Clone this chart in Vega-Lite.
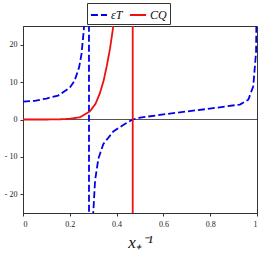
{
  "$schema": "https://vega.github.io/schema/vega-lite/v6.json",
  "width": 234,
  "height": 187,
  "autosize": {"type": "none"},
  "padding": {"left": 23, "top": 26, "right": 5, "bottom": 49},
  "background": "white",
  "config": {
    "view": {"stroke": "#333", "strokeWidth": 1},
    "axis": {"grid": false, "domainColor": "#333", "tickColor": "#333", "labelFont": "Liberation Serif", "labelFontSize": 8, "labelColor": "#222", "titleFont": "Liberation Serif", "titleFontWeight": "normal", "titleColor": "#111"},
    "legend": {"orient": "none", "legendX": 64, "legendY": -23, "direction": "horizontal", "title": null,
               "strokeColor": "#333", "padding": 3, "symbolType": "stroke", "symbolSize": 260, "symbolStrokeWidth": 1.8,
               "labelFont": "Liberation Serif", "labelFontStyle": "italic", "labelFontSize": 12, "labelColor": "#111",
               "columnPadding": 3, "labelOffset": 3}
  },
  "data": {"values": [
    {"s": "εT", "x": 0, "y": 4.8},
    {"s": "εT", "x": 0.05, "y": 5.0},
    {"s": "εT", "x": 0.1, "y": 5.6},
    {"s": "εT", "x": 0.15, "y": 6.4},
    {"s": "εT", "x": 0.2, "y": 8.5},
    {"s": "εT", "x": 0.22, "y": 10.3},
    {"s": "εT", "x": 0.24, "y": 14},
    {"s": "εT", "x": 0.25, "y": 17.5},
    {"s": "εT", "x": 0.26, "y": 24},
    {"s": "εT", "x": 0.27, "y": 40},
    {"s": "εT", "x": 0.276, "y": 80},
    {"s": "εT", "x": 0.281, "y": 300},
    {"s": "εT", "x": 0.283, "y": -300},
    {"s": "εT", "x": 0.29, "y": -60},
    {"s": "εT", "x": 0.3, "y": -25.3},
    {"s": "εT", "x": 0.308, "y": -16.3},
    {"s": "εT", "x": 0.322, "y": -10.5},
    {"s": "εT", "x": 0.343, "y": -6.6},
    {"s": "εT", "x": 0.386, "y": -3.2},
    {"s": "εT", "x": 0.43, "y": -1.4},
    {"s": "εT", "x": 0.469, "y": 0},
    {"s": "εT", "x": 0.5, "y": 0.5},
    {"s": "εT", "x": 0.642, "y": 1.7},
    {"s": "εT", "x": 0.785, "y": 2.8},
    {"s": "εT", "x": 0.927, "y": 4.0},
    {"s": "εT", "x": 0.963, "y": 5.3},
    {"s": "εT", "x": 0.984, "y": 8.9},
    {"s": "εT", "x": 0.996, "y": 18},
    {"s": "εT", "x": 0.998, "y": 30},
    {"s": "CQ", "x": 0, "y": 0},
    {"s": "CQ", "x": 0.1, "y": 0},
    {"s": "CQ", "x": 0.158, "y": 0.05},
    {"s": "CQ", "x": 0.2, "y": 0.2},
    {"s": "CQ", "x": 0.244, "y": 0.6},
    {"s": "CQ", "x": 0.286, "y": 2.2},
    {"s": "CQ", "x": 0.31, "y": 4.2},
    {"s": "CQ", "x": 0.329, "y": 7.1},
    {"s": "CQ", "x": 0.345, "y": 10.5},
    {"s": "CQ", "x": 0.358, "y": 14.3},
    {"s": "CQ", "x": 0.372, "y": 19},
    {"s": "CQ", "x": 0.386, "y": 25},
    {"s": "CQ", "x": 0.4, "y": 40},
    {"s": "CQ", "x": 0.4688, "y": 300},
    {"s": "CQ", "x": 0.469, "y": -300}
  ]},
  "layer": [
    {
      "mark": {"type": "rule", "color": "#555", "strokeWidth": 1},
      "encoding": {"y": {"datum": 0}}
    },
    {
      "mark": {"type": "line", "clip": true, "strokeWidth": 1.8},
      "encoding": {
        "x": {"field": "x", "type": "quantitative", "scale": {"domain": [0, 1], "nice": false},
              "axis": {"values": [0, 0.2, 0.4, 0.6, 0.8, 1], "format": "~g", "tickSize": 3, "labelPadding": 4,
                       "title": "x₊⁻¹", "titleFontSize": 17, "titleFontStyle": "italic", "titlePadding": 6}},
        "y": {"field": "y", "type": "quantitative", "scale": {"domain": [-25, 25], "nice": false},
              "axis": {"values": [-20, -10, 0, 10, 20], "tickSize": 3, "labelPadding": 3, "title": null,
                       "labelExpr": "datum.value < 0 ? '- ' + abs(datum.value) : datum.label"}},
        "color": {"field": "s", "type": "nominal", "sort": ["εT", "CQ"],
                  "scale": {"domain": ["εT", "CQ"], "range": ["#0000ee", "#ee1111"]}},
        "strokeDash": {"field": "s", "type": "nominal", "sort": ["εT", "CQ"],
                       "scale": {"domain": ["εT", "CQ"], "range": [[7, 3], [1, 0]]}}
      }
    }
  ]
}
